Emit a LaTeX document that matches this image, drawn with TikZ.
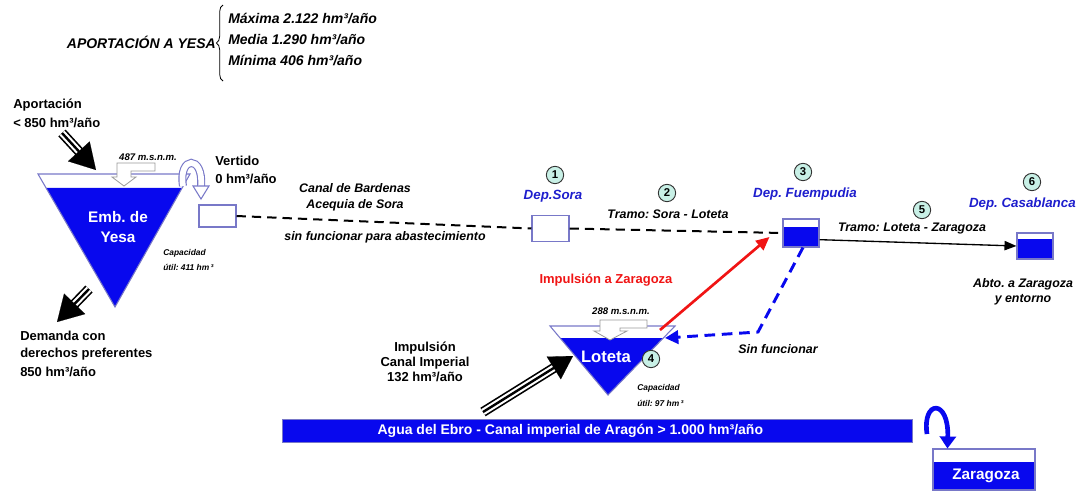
\documentclass[tikz,border=0pt]{standalone}
\usepackage{fontspec}
\setmainfont{Liberation Sans}
\usetikzlibrary{arrows.meta,calc,decorations.pathreplacing}
\definecolor{resblue}{RGB}{8,8,238}
\definecolor{deptxt}{RGB}{30,30,205}
\definecolor{outl}{RGB}{120,120,200}
\definecolor{circfill}{RGB}{200,240,230}
\definecolor{redarr}{RGB}{240,20,20}
\frenchspacing
\begin{document}
\begin{tikzpicture}[x=0.75pt,y=-0.75pt,
  lbl/.style={font=\fontsize{9.75}{11.5}\selectfont\bfseries, inner sep=0pt, align=left},
  clbl/.style={font=\fontsize{9.75}{11.5}\selectfont\bfseries, inner sep=0pt, align=center},
  tlbl/.style={font=\fontsize{10.5}{12}\selectfont\bfseries\itshape, inner sep=0pt},
  ilbl/.style={font=\fontsize{9.3}{11}\selectfont\bfseries\itshape, inner sep=0pt, align=center},
  smalllbl/.style={font=\fontsize{6.3}{11.5}\selectfont\bfseries\itshape, inner sep=0pt, align=left},
  msnm/.style={font=\fontsize{7.2}{8}\selectfont\bfseries\itshape, inner sep=0pt},
  deplbl/.style={font=\fontsize{10}{12}\selectfont\bfseries\itshape, text=deptxt, inner sep=0pt},
  wlbl/.style={font=\fontsize{11.5}{15}\selectfont\bfseries, text=white, inner sep=0pt, align=center},
  numc/.style={circle, draw=black!80, fill=circfill, line width=0.7pt, minimum size=13pt, inner sep=0pt, font=\fontsize{8.5}{8.5}\selectfont\bfseries},
  boxw/.style={draw=outl, fill=white, line width=0.8pt, inner sep=0pt},
  tank/.style={draw=outl, fill=white, line width=0.8pt, inner sep=0pt},
  outline/.style={draw=outl, line width=0.8pt},
  hollow/.style={draw=gray!80, fill=white, line width=0.6pt},
  dashline/.style={line width=1.5pt, dash pattern=on 7pt off 4.5pt},
  bigshaft/.style={line width=7.5pt, black},
  bighead/.style={line width=0.1pt, black, -{Triangle[length=#1,width=#1+3pt]}}
]
\path[use as bounding box] (0,0) rectangle (1079,490);

% ---------- top block ----------
\node[tlbl, anchor=east] (aporYesa) at (216,42) {APORTACIÓN A YESA};
\draw[decorate, decoration={brace, amplitude=5pt}, line width=0.6pt] (223,81) -- (223,5);
\node[tlbl, anchor=west] (maxi) at (228,19) {Máxima 2.122 hm³/año};
\node[tlbl, anchor=west] (media) at (228,40) {Media 1.290 hm³/año};
\node[tlbl, anchor=west] (mini) at (228,61) {Mínima 406 hm³/año};

% ---------- Yesa ----------
\node[lbl, anchor=west] (apor1) at (13,105) {Aportación};
\node[lbl, anchor=west] (apor2) at (13,123) {< 850 hm³/año};

\coordinate (yTL) at (38,174);
\coordinate (yTR) at (190,174);
\coordinate (yB) at (115,307);
\fill[resblue] ($(yTL)!0.105!(yB)$) -- ($(yTR)!0.105!(yB)$) -- (yB) -- cycle;
\draw[outline] (yTL) -- (yTR) -- (yB) -- cycle;
\node[wlbl] (yesaName) at (118,227) {Emb. de\\Yesa};

\node[msnm] (ymsnm) at (148,157) {487 m.s.n.m.};
\draw[hollow] (117,163) -- (155,163) -- (155,171) -- (131,171) -- (131,177) -- (136,177) -- (124,186) -- (112,177) -- (117,177) -- cycle;

\node[smalllbl, anchor=west] (ycap1) at (163,253) {Capacidad};
\node[smalllbl, anchor=west] (ycap2) at (163,267) {útil: 411 hm\,³};

% Aportacion arrow
\coordinate (apTail) at (62,133);
\coordinate (apTip) at (96,170);
\draw[bigshaft] (apTail) -- ($(apTip)!15pt!(apTail)$);
\draw[white, line width=5pt] (apTail) -- ($(apTip)!15pt!(apTail)$);
\draw[black, line width=1.8pt] (apTail) -- ($(apTip)!15pt!(apTail)$);
\draw[bighead=19pt] ($(apTip)!20pt!(apTail)$) -- (apTip);

% Demanda arrow
\coordinate (deTail) at (89,289);
\coordinate (deTip) at (57,322);
\draw[bigshaft] (deTail) -- ($(deTip)!15pt!(deTail)$);
\draw[white, line width=5pt] (deTail) -- ($(deTip)!15pt!(deTail)$);
\draw[black, line width=1.8pt] (deTail) -- ($(deTip)!15pt!(deTail)$);
\draw[bighead=19pt] ($(deTip)!20pt!(deTail)$) -- (deTip);

\node[lbl, anchor=west] (dem1) at (20,336) {Demanda con};
\node[lbl, anchor=west] (dem2) at (20,354) {derechos preferentes};
\node[lbl, anchor=west] (dem3) at (20,372) {850 hm³/año};

% Vertido
\node[lbl, anchor=west] (vert1) at (215,161) {Vertido};
\node[lbl, anchor=west] (vert2) at (215,179) {0 hm³/año};
\draw[outl, line width=6pt] (183,186) .. controls (178,156) and (204,154) .. (201,187);
\draw[white, line width=4.3pt] (183,186) .. controls (178,156) and (204,154) .. (201,187);
\draw[outline, fill=white] (193,186) -- (209,186) -- (201,199) -- cycle;

\node[boxw, minimum width=27.75pt, minimum height=16.5pt] (vbox) at (217.5,216) {};

% Canal labels
\node[ilbl] (canal1) at (355,188) {Canal de Bardenas};
\node[ilbl] (canal2) at (355,205) {Acequia de Sora};
\node[ilbl] (sinfa) at (385,237) {sin funcionar para abastecimiento};

% Dep Sora
\node[boxw, minimum width=27.75pt, minimum height=20pt] (sora) at (550.5,228.5) {};
\node[numc] (n1) at (555,175) {1};
\node[deplbl] (soraName) at (553,196) {Dep.Sora};

\node[numc] (n2) at (667,193) {2};
\node[ilbl] (tramo1) at (668,214) {Tramo: Sora - Loteta};

% Dep Fuempudia
\node[tank, minimum width=27pt, minimum height=21pt,
  path picture={\fill[resblue] (path picture bounding box.south west) rectangle ([yshift=-6pt]path picture bounding box.north east);}] (fuem) at (801,233) {};
\node[numc] (n3) at (803,172) {3};
\node[deplbl] (fuemName) at (805,194) {Dep. Fuempudia};

% Dep Casablanca
\node[tank, minimum width=27pt, minimum height=19.5pt,
  path picture={\fill[resblue] (path picture bounding box.south west) rectangle ([yshift=-4.5pt]path picture bounding box.north east);}] (casa) at (1035,246) {};
\node[numc] (n6) at (1032,182) {6};
\node[deplbl, anchor=east] (casaName) at (1076,204) {Dep. Casablanca};
\node[numc] (n5) at (922,210) {5};
\node[ilbl] (tramo2) at (912,229) {Tramo: Loteta - Zaragoza};
\node[ilbl] (abto) at (1023,292) {Abto. a Zaragoza\\y entorno};

% connectors
\draw[dashline] (vbox.east) -- (sora.west);
\draw[dashline] (sora.east) -- (fuem.west);
\draw[line width=1pt, -{Triangle[length=9pt,width=7pt]}] ([yshift=-5pt]fuem.east) -- (casa.west);

% Loteta
\coordinate (lTL) at (550,326);
\coordinate (lTR) at (675,326);
\coordinate (lB) at (608,395);
\fill[resblue] ($(lTL)!0.174!(lB)$) -- ($(lTR)!0.174!(lB)$) -- (lB) -- cycle;
\draw[outline] (lTL) -- (lTR) -- (lB) -- cycle;
\node[wlbl, font=\fontsize{12.5}{15}\selectfont\bfseries] (lotName) at (606,357) {Loteta};
\node[numc] (n4) at (651,359) {4};
\node[msnm] (lmsnm) at (621,311) {288 m.s.n.m.};
\draw[hollow] (600,320) -- (647,320) -- (647,328) -- (620,328) -- (620,331) -- (627,331) -- (610,340) -- (594,331) -- (600,331) -- cycle;
\node[smalllbl, anchor=west] (lcap1) at (637,388) {Capacidad};
\node[smalllbl, anchor=west] (lcap2) at (637,403) {útil: 97 hm\,³};

\node[font=\fontsize{9.75}{11.5}\selectfont\bfseries, text=redarr, inner sep=0pt] (impZ) at (606,280) {Impulsión a Zaragoza};
\coordinate (redStart) at (660,330);
\draw[redarr, line width=2pt, -{Triangle[length=10pt,width=9pt]}] (redStart) -- ($(fuem.west)+(-13,4)$);

\coordinate (blueCorner) at (758,332);
\coordinate (blueEnd) at (665,338);
\draw[resblue, line width=2.2pt, dash pattern=on 8pt off 5pt, -{Triangle[length=10pt,width=10pt]}] ([xshift=1.5pt]fuem.south) -- (blueCorner) -- (blueEnd);
\node[ilbl] (sinf) at (778,349) {Sin funcionar};

% Canal Imperial
\node[clbl] (impC) at (425,362) {Impulsión\\Canal Imperial\\132 hm³/año};
\coordinate (ciTail) at (483,412);
\coordinate (ciTip) at (573,356);
\draw[bigshaft] (ciTail) -- ($(ciTip)!13pt!(ciTail)$);
\draw[white, line width=5pt] (ciTail) -- ($(ciTip)!13pt!(ciTail)$);
\draw[black, line width=1.8pt] (ciTail) -- ($(ciTip)!13pt!(ciTail)$);
\draw[bighead=17pt] ($(ciTip)!18pt!(ciTail)$) -- (ciTip);

% Ebro bar
\node[fill=resblue, draw=outl, line width=0.6pt, minimum width=472.5pt, minimum height=17.25pt, inner sep=0pt,
  font=\fontsize{10.5}{12}\selectfont\bfseries, text=white] (bar) at (597,430.5) {\hspace*{-40pt}Agua del Ebro - Canal imperial de Aragón > 1.000 hm³/año};

% Zaragoza
\node[tank, minimum width=76.5pt, minimum height=30.75pt,
  path picture={\fill[resblue] (path picture bounding box.south west) rectangle ([yshift=-9.75pt]path picture bounding box.north east);}] (zar) at (984,469.5) {};
\node[wlbl] (zarName) at (986,476) {Zaragoza};
\coordinate (zarStart) at (927,434);
\draw[resblue, line width=3.5pt, -{Triangle[length=9pt,width=12pt]}] (zarStart) .. controls (922,400) and (949,398) .. ([xshift=11.25pt]zar.north west);
\end{tikzpicture}
\end{document}
